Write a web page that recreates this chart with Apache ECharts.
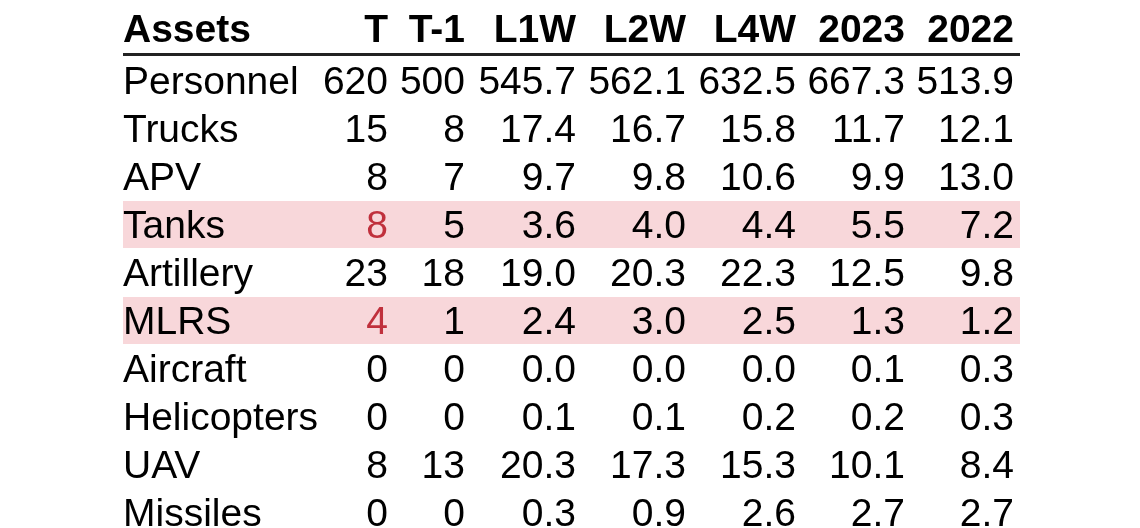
<!DOCTYPE html>
<html>
<head>
<meta charset="utf-8">
<script src="https://cdn.jsdelivr.net/npm/echarts@6/dist/echarts.min.js"></script>
<style>
html,body{margin:0;padding:0;background:#fff;}
#main{width:1140px;height:528px;}
</style>
</head>
<body>
<div id="main"></div>
<script>
// table data
var columns = ['Assets', 'T', 'T-1', 'L1W', 'L2W', 'L4W', '2023', '2022'];
var assets = ['Personnel', 'Trucks', 'APV', 'Tanks', 'Artillery', 'MLRS', 'Aircraft', 'Helicopters', 'UAV', 'Missiles'];
var tVal   = [620, 15, 8, 8, 23, 4, 0, 0, 8, 0];
var t1Val  = [500, 8, 7, 5, 18, 1, 0, 0, 13, 0];
var l1wVal = [545.7, 17.4, 9.7, 3.6, 19.0, 2.4, 0.0, 0.1, 20.3, 0.3];
var l2wVal = [562.1, 16.7, 9.8, 4.0, 20.3, 3.0, 0.0, 0.1, 17.3, 0.9];
var l4wVal = [632.5, 15.8, 10.6, 4.4, 22.3, 2.5, 0.0, 0.2, 15.3, 2.6];
var y2023Val = [667.3, 11.7, 9.9, 5.5, 12.5, 1.3, 0.1, 0.2, 10.1, 2.7];
var y2022Val = [513.9, 12.1, 13.0, 7.2, 9.8, 1.2, 0.3, 0.3, 8.4, 2.7];
var highlightRows = ['Tanks', 'MLRS'];

// layout: anchor of each column on the x axis (left edge for Assets, right edge for the rest)
var colAnchor = [123, 388, 465, 576, 686, 796, 905, 1014];
var tableLeft = 123, tableRight = 1020;
var headerRow = -1.08, ruleRow = -0.53;

var numCols = [
    {vals: tVal, dec: 0},
    {vals: t1Val, dec: 0},
    {vals: l1wVal, dec: 1},
    {vals: l2wVal, dec: 1},
    {vals: l4wVal, dec: 1},
    {vals: y2023Val, dec: 1},
    {vals: y2022Val, dec: 1}
];

var cells = [];
var cellData = [];
columns.forEach(function (name, c) {
    cells.push({text: name, bold: true, align: c === 0 ? 'left' : 'right', red: false});
    cellData.push([colAnchor[c], headerRow]);
});
assets.forEach(function (name, r) {
    var hl = highlightRows.indexOf(name) >= 0;
    cells.push({text: name, bold: false, align: 'left', red: false});
    cellData.push([colAnchor[0], r]);
    numCols.forEach(function (col, k) {
        cells.push({text: col.vals[r].toFixed(col.dec), bold: false, align: 'right', red: hl && k === 0});
        cellData.push([colAnchor[k + 1], r]);
    });
});

var bandData = [];
assets.forEach(function (name, r) {
    if (highlightRows.indexOf(name) >= 0) bandData.push([tableLeft, r, tableRight]);
});

var font = '"Liberation Sans", Arial, sans-serif';
var myChart = echarts.init(document.getElementById('main'));

var option = {
    backgroundColor: '#fff',
    animation: false,
    grid: {left: 0, right: 0, top: 0, bottom: 0},
    xAxis: {type: 'value', min: 0, max: 1140, show: false},
    yAxis: {type: 'value', inverse: true, min: -5 / 3, max: 28 / 3, show: false},
    series: [
        {
            name: 'bands',
            type: 'custom',
            silent: true,
            data: bandData,
            renderItem: function (params, api) {
                var a = api.coord([api.value(0), api.value(1) - 0.48]);
                var b = api.coord([api.value(2), api.value(1) + 0.5]);
                return {
                    type: 'rect',
                    shape: {x: a[0], y: a[1], width: b[0] - a[0], height: b[1] - a[1]},
                    style: {fill: '#f8d7da'}
                };
            }
        },
        {
            name: 'rule',
            type: 'custom',
            silent: true,
            data: [[tableLeft, ruleRow, tableRight]],
            renderItem: function (params, api) {
                var a = api.coord([api.value(0), api.value(1)]);
                var b = api.coord([api.value(2), api.value(1)]);
                return {
                    type: 'line',
                    shape: {x1: a[0], y1: a[1], x2: b[0], y2: b[1]},
                    style: {stroke: '#222', lineWidth: 3}
                };
            }
        },
        {
            name: 'cells',
            type: 'custom',
            silent: true,
            data: cellData,
            renderItem: function (params, api) {
                var cell = cells[params.dataIndex];
                var p = api.coord([api.value(0), api.value(1)]);
                return {
                    type: 'text',
                    x: p[0],
                    y: p[1] + 3,
                    style: {
                        text: cell.text,
                        align: cell.align,
                        verticalAlign: 'middle',
                        fontFamily: font,
                        fontSize: 39,
                        fontWeight: cell.bold ? 'bold' : 'normal',
                        fill: cell.red ? '#c0303c' : '#000'
                    }
                };
            }
        }
    ]
};
myChart.setOption(option);
</script>
</body>
</html>
